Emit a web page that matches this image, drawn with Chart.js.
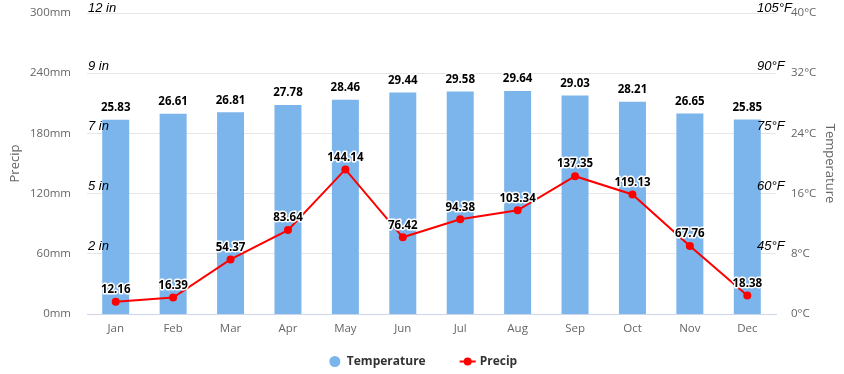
<!DOCTYPE html>
<html>
<head>
<meta charset="utf-8">
<script src="https://cdn.jsdelivr.net/npm/chart.js@4/dist/chart.umd.min.js"></script>
<style>
html,body{margin:0;padding:0;background:#fff;}
#c{display:block;}
</style>
</head>
<body>
<canvas id="c" width="844" height="374"></canvas>
<script>
const months = ['Jan','Feb','Mar','Apr','May','Jun','Jul','Aug','Sep','Oct','Nov','Dec'];
const temperature = [25.83,26.61,26.81,27.78,28.46,29.44,29.58,29.64,29.03,28.21,26.65,25.85];
const precip = [12.16,16.39,54.37,83.64,144.14,76.42,94.38,103.34,137.35,119.13,67.76,18.38];
const inchTickValues = [60,120,180,240,300];
const inchTickLabels = ['2 in','5 in','7 in','9 in','12 in'];
const fahrTickValues = [8,16,24,32,40];
const fahrTickLabels = ['45°F','60°F','75°F','90°F','105°F'];

const TICK_FONT = {family:'"Open Sans", sans-serif', size:11.5};
const TITLE_FONT = {family:'"Open Sans", sans-serif', size:13};

const overlayPlugin = {
  id:'overlay',
  afterDatasetsDraw(chart){
    const ctx = chart.ctx;
    const yP = chart.scales.yP, yT = chart.scales.yT, area = chart.chartArea;
    ctx.save();
    ctx.font = 'italic 13px "Liberation Sans", Arial, sans-serif';
    ctx.fillStyle = '#000';
    ctx.textBaseline = 'middle';
    ctx.textAlign = 'left';
    inchTickValues.forEach((v,i)=>{
      const y = Math.max(yP.getPixelForValue(v) - 7, 8);
      ctx.fillText(inchTickLabels[i], area.left + 1, y);
    });
    fahrTickValues.forEach((v,i)=>{
      const y = Math.max(yT.getPixelForValue(v) - 7, 8);
      ctx.fillText(fahrTickLabels[i], area.right - 19, y);
    });
    ctx.font = 'bold 11.5px "Open Sans", sans-serif';
    ctx.textAlign = 'center';
    ctx.lineJoin = 'round';
    chart.data.datasets.forEach((ds,di)=>{
      const meta = chart.getDatasetMeta(di);
      meta.data.forEach((el,i)=>{
        const txt = ds.data[i].toFixed(2);
        const y = el.y - 12;
        ctx.strokeStyle = '#fff';
        ctx.lineWidth = 3;
        ctx.strokeText(txt, el.x, y);
        ctx.fillStyle = '#000';
        ctx.fillText(txt, el.x, y);
      });
    });
    ctx.restore();
  },
  afterDraw(chart){
    const ctx = chart.ctx;
    ctx.save();
    ctx.font = 'bold 12px "Open Sans", sans-serif';
    ctx.textBaseline = 'middle';
    ctx.textAlign = 'left';
    const items = chart.data.datasets.map(ds=>({label:ds.label, type:ds.type, color: ds.type==='bar'?ds.backgroundColor:ds.borderColor}));
    const gap = 34, symW = 20;
    const widths = items.map(it=>symW + ctx.measureText(it.label).width);
    const total = widths.reduce((a,b)=>a+b,0) + gap*(items.length-1);
    let x = chart.width/2 - total/2;
    const y = 361.5;
    items.forEach((it,i)=>{
      if(it.type==='bar'){
        ctx.fillStyle = it.color;
        ctx.beginPath(); ctx.arc(x+8, y, 5.5, 0, Math.PI*2); ctx.fill();
      } else {
        ctx.strokeStyle = it.color; ctx.lineWidth = 2;
        ctx.beginPath(); ctx.moveTo(x, y); ctx.lineTo(x+16, y); ctx.stroke();
        ctx.fillStyle = it.color;
        ctx.beginPath(); ctx.arc(x+8, y, 4, 0, Math.PI*2); ctx.fill();
      }
      ctx.fillStyle = '#333';
      ctx.fillText(it.label, x + symW, y);
      x += widths[i] + gap;
    });
    ctx.restore();
  }
};

function fitY(width){
  return function(s){ s.width = width; s.paddingTop = 0; s.paddingBottom = 0; };
}

new Chart(document.getElementById('c'), {
  data:{
    labels: months,
    datasets:[
      {type:'bar', label:'Temperature', data:temperature, yAxisID:'yT', order:1,
       backgroundColor:'#7cb5ec', barPercentage:0.47, categoryPercentage:1},
      {type:'line', label:'Precip', data:precip, yAxisID:'yP', order:0,
       borderColor:'#ff0000', backgroundColor:'#ff0000', borderWidth:2,
       pointRadius:4, pointBorderWidth:0, pointBackgroundColor:'#ff0000', tension:0}
    ]
  },
  options:{
    responsive:false,
    devicePixelRatio:1,
    animation:false,
    layout:{padding:{top:13, bottom:30, left:0, right:0}},
    plugins:{legend:{display:false}, tooltip:{enabled:false}},
    scales:{
      x:{
        grid:{display:false, drawTicks:false},
        border:{display:true, color:'#ccd6eb', width:1},
        ticks:{color:'#666', font:TICK_FONT, padding:8, maxRotation:0},
        afterFit(s){ s.height = 30; s.paddingLeft = 0; s.paddingRight = 0; }
      },
      yP:{
        position:'left', min:0, max:300,
        grid:{color:'#e6e6e6', drawTicks:false},
        border:{display:false},
        ticks:{stepSize:60, color:'#666', font:TICK_FONT, padding:16, callback:v=>v+'mm'},
        title:{display:true, text:'Precip', color:'#666', font:TITLE_FONT, padding:{top:7, bottom:0}},
        afterFit: fitY(87)
      },
      yT:{
        position:'right', min:0, max:40,
        grid:{display:false, drawTicks:false},
        border:{display:false},
        ticks:{stepSize:8, color:'#666', font:TICK_FONT, padding:15, callback:v=>v+'°C'},
        title:{display:true, text:'Temperature', color:'#666', font:TITLE_FONT, padding:{top:6, bottom:0}},
        afterFit: fitY(68)
      }
    }
  },
  plugins:[overlayPlugin]
});
</script>
</body>
</html>
